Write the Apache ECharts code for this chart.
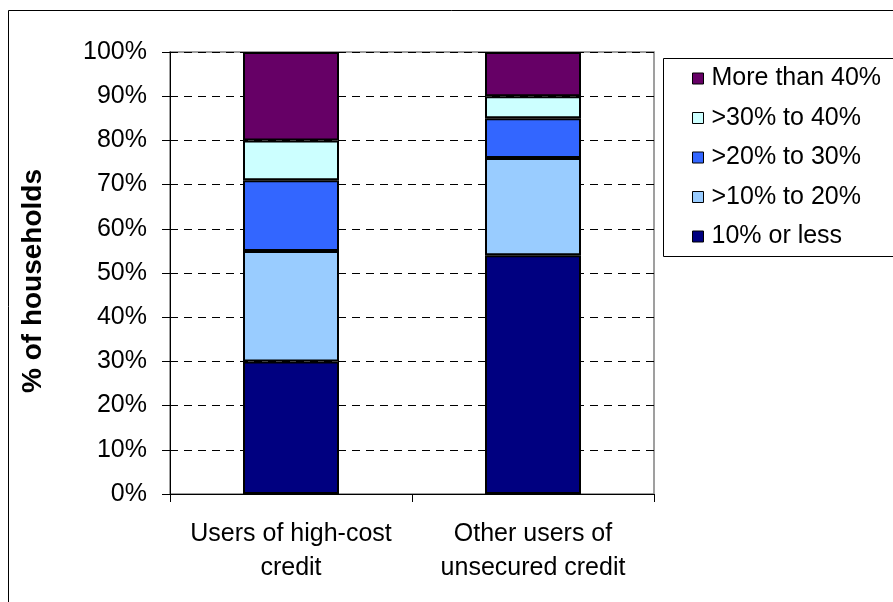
<!DOCTYPE html>
<html>
<head>
<meta charset="utf-8">
<script src="https://cdn.jsdelivr.net/npm/echarts@6/dist/echarts.min.js"></script>
<style>
  html, body { margin: 0; padding: 0; background: #fff; }
  #chart { width: 893px; height: 602px; }
</style>
</head>
<body>
<div id="chart"></div>
<script>
// Household groups on the horizontal axis
const categories = ['Users of high-cost\ncredit', 'Other users of\nunsecured credit'];

// Share of households (%) in each repayment band, bottom band first
const bandNames = ['10% or less', '>10% to 20%', '>20% to 30%', '>30% to 40%', 'More than 40%'];
const tenOrLess = [30, 54];
const tenToTwenty = [25, 22];
const twentyToThirty = [16, 9];
const thirtyToForty = [9, 5];
const moreThanForty = [20, 10];
const bandColors = ['#000080', '#99CCFF', '#3366FF', '#CCFFFF', '#660066'];

// Legend lists the top band first
const legendOrder = ['More than 40%', '>30% to 40%', '>20% to 30%', '>10% to 20%', '10% or less'];

const bandValues = [tenOrLess, tenToTwenty, twentyToThirty, thirtyToForty, moreThanForty];

const FONT = '"Liberation Sans", Arial, sans-serif';

const chart = echarts.init(document.getElementById('chart'), null, { renderer: 'canvas' });

chart.setOption({
  animation: false,
  backgroundColor: '#fff',
  textStyle: { fontFamily: FONT },
  graphic: [
    {
      type: 'rect',
      shape: { x: 8.5, y: 10.5, width: 1000, height: 1000 },
      style: { fill: 'none', stroke: '#000', lineWidth: 1 },
      silent: true
    },
    {
      type: 'rect',
      shape: { x: 663.5, y: 58.5, width: 300, height: 198 },
      style: { fill: '#fff', stroke: '#000', lineWidth: 1 },
      silent: true,
      z: -1
    }
  ],
  grid: {
    left: 170, top: 52, width: 484, height: 442,
    show: true, borderColor: '#808080', borderWidth: 1.5, backgroundColor: 'transparent'
  },
  legend: {
    data: legendOrder,
    orient: 'vertical',
    left: 687, top: 61,
    itemWidth: 11, itemHeight: 11, itemGap: 14.5,
    icon: 'rect',
    itemStyle: { borderColor: '#000', borderWidth: 1 },
    textStyle: { fontFamily: FONT, fontSize: 25, color: '#000', lineHeight: 24, padding: [0, 0, 0, 3] }
  },
  xAxis: {
    type: 'category',
    data: categories,
    axisLine: { lineStyle: { color: '#000', width: 1 } },
    axisTick: { show: true, length: 8, lineStyle: { color: '#000' } },
    axisLabel: { fontFamily: FONT, fontSize: 25, color: '#000', lineHeight: 34, margin: 23, interval: 0 }
  },
  yAxis: {
    type: 'value',
    min: 0, max: 100, interval: 10,
    name: '% of households',
    nameLocation: 'middle',
    nameRotate: 90,
    nameGap: 123,
    nameTextStyle: { fontFamily: FONT, fontSize: 28, fontWeight: 'bold', color: '#000', padding: [0, 16, 0, 0] },
    axisLine: { show: true, lineStyle: { color: '#000', width: 1 } },
    axisTick: { show: true, length: 8, lineStyle: { color: '#000' } },
    axisLabel: { fontFamily: FONT, fontSize: 25, color: '#000', margin: 23, formatter: '{value}%' },
    splitLine: { show: true, lineStyle: { color: '#000', type: [8, 6], width: 1 } }
  },
  series: bandNames.map((name, i) => ({
    name: name,
    type: 'bar',
    stack: 'total',
    barWidth: 96,
    data: bandValues[i],
    itemStyle: { color: bandColors[i], borderColor: '#000', borderWidth: 2 }
  }))
});
</script>
</body>
</html>
